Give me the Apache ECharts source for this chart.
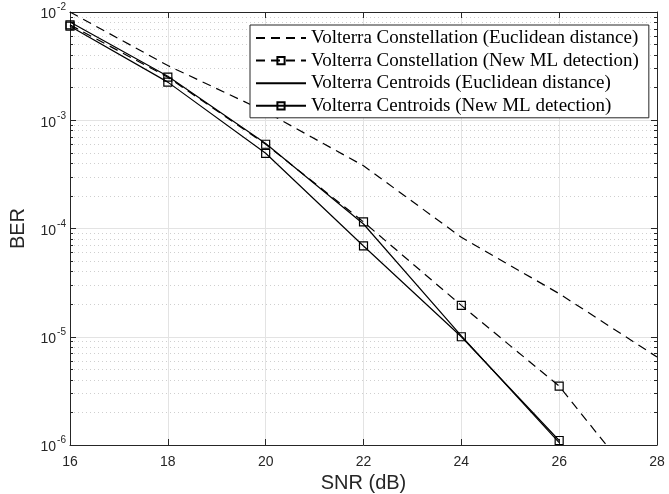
<!DOCTYPE html>
<html><head><meta charset="utf-8">
<script src="https://cdn.jsdelivr.net/npm/echarts@6/dist/echarts.min.js"></script>
<style>html,body{margin:0;padding:0;background:#fff}#c{width:669px;height:494px}</style>
</head><body><div id="c"></div>
<script>
// ---- data ----
const snr = [16, 18, 20, 22, 24, 26, 28];
const constEuclid = [1.0e-2, 3.2e-3, 1.2e-3, 3.8e-4, 8.3e-5, 2.5e-5, 6.5e-6];
const constML     = [7.6e-3, 2.5e-3, 6.0e-4, 1.15e-4, 1.95e-5, 3.5e-6, 2.6e-7];
const centEuclid  = [8.1e-3, 2.55e-3, 6.1e-4, 1.1e-4, 1.02e-5, 1.05e-6, null];
const centML      = [7.4e-3, 2.25e-3, 4.95e-4, 6.9e-5, 1.0e-5, 1.1e-6, null];
const seriesNames = [
  'Volterra Constellation (Euclidean distance)',
  'Volterra Constellation (New ML detection)',
  'Volterra Centroids (Euclidean distance)',
  'Volterra Centroids (New ML detection)'
];
const xTicks = [16, 18, 20, 22, 24, 26, 28];
const yMajor = [1e-6, 1e-5, 1e-4, 1e-3, 1e-2];
const yMinor = [];
for (let e = -6; e < -2; e++) for (let m = 2; m <= 9; m++) yMinor.push(m * Math.pow(10, e));

const AX = '#262626';
const pair = arr => snr.map((x, i) => [x, arr[i]]);

const chart = echarts.init(document.getElementById('c'), null, {renderer: 'canvas'});

function yAxisBase(extra) {
  return Object.assign({
    type: 'log', logBase: 10, min: 1e-6, max: 1e-2, gridIndex: 0,
    axisLine: {show: false},
    axisLabel: {show: false},
    axisTick: {show: false},
    splitLine: {show: false},
    minorTick: {show: false},
    minorSplitLine: {show: false}
  }, extra);
}

const dash = [9, 6];
const lineW = 1.2;

const option = {
  animation: false,
  backgroundColor: '#fff',
  grid: {left: 70, right: 12, top: 12, bottom: 49, containLabel: false, outerBoundsMode: 'none'},
  xAxis: [
    {
      type: 'value', min: 16, max: 28, interval: 2, position: 'bottom',
      axisLine: {show: true, onZero: false, lineStyle: {color: AX, width: 1}},
      axisTick: {show: true, inside: true, length: 6, lineStyle: {color: AX}, customValues: xTicks},
      axisLabel: {color: AX, fontSize: 14, fontFamily: 'Liberation Sans', margin: 10, customValues: xTicks},
      splitLine: {show: true, lineStyle: {color: '#e3e3e3', width: 1}},
      name: 'SNR (dB)', nameLocation: 'middle', nameGap: 28,
      nameTextStyle: {color: AX, fontSize: 20, fontFamily: 'Liberation Sans'}
    },
    {
      type: 'value', min: 16, max: 28, interval: 2, position: 'top',
      axisLine: {show: true, onZero: false, lineStyle: {color: AX, width: 1}},
      axisTick: {show: true, inside: true, length: 6, lineStyle: {color: AX}},
      axisLabel: {show: false},
      splitLine: {show: false}
    }
  ],
  yAxis: [
    yAxisBase({
      position: 'left',
      axisLine: {show: true, onZero: false, lineStyle: {color: AX, width: 1}},
      axisTick: {show: true, inside: true, length: 6, lineStyle: {color: AX}, customValues: yMajor},
      axisLabel: {
        show: true, customValues: yMajor, margin: 4, color: AX,
        formatter: v => '{b|10}{s|' + Math.round(Math.log10(v)) + '}',
        rich: {
          b: {fontSize: 14, fontFamily: 'Liberation Sans', color: AX, verticalAlign: 'bottom', padding: [0, 0, 0, 0]},
          s: {fontSize: 10, fontFamily: 'Liberation Sans', color: AX, verticalAlign: 'bottom', padding: [0, 0, 9, 1]}
        }
      },
      splitLine: {show: true, lineStyle: {color: '#e3e3e3', width: 1}},
      name: 'BER', nameLocation: 'middle', nameGap: 42, nameRotate: 90,
      nameTextStyle: {color: AX, fontSize: 20, fontFamily: 'Liberation Sans'}
    }),
    yAxisBase({
      position: 'left',
      axisTick: {show: true, inside: true, length: 3, lineStyle: {color: AX}, customValues: yMinor},
      splitLine: {show: true, lineStyle: {color: '#cfcfcf', width: 1, type: [1, 3]}}
    }),
    yAxisBase({
      position: 'right',
      axisLine: {show: true, onZero: false, lineStyle: {color: AX, width: 1}},
      axisTick: {show: true, inside: true, length: 6, lineStyle: {color: AX}, customValues: yMajor}
    }),
    yAxisBase({
      position: 'right',
      axisTick: {show: true, inside: true, length: 3, lineStyle: {color: AX}, customValues: yMinor}
    })
  ],
  legend: {
    show: true, orient: 'vertical', left: 250, top: 25,
    padding: [2, 10, 1, 5], itemGap: 0.6,
    itemWidth: 50, itemHeight: 9,
    backgroundColor: '#fff', borderColor: AX, borderWidth: 1, borderRadius: 0,
    shadowBlur: 0, shadowColor: 'transparent',
    textStyle: {color: '#000', fontSize: 19, fontFamily: 'Liberation Serif', lineHeight: 22},
    selectedMode: false,
    data: [
      {name: seriesNames[0], itemStyle: {opacity: 0}},
      {name: seriesNames[1]},
      {name: seriesNames[2], itemStyle: {opacity: 0}},
      {name: seriesNames[3]}
    ]
  },
  series: [
    {
      name: seriesNames[0], type: 'line', xAxisIndex: 0, yAxisIndex: 0,
      data: pair(constEuclid), symbol: 'none', clip: true,
      lineStyle: {color: '#000', width: lineW, type: dash},
      itemStyle: {color: 'transparent', borderWidth: 0}
    },
    {
      name: seriesNames[1], type: 'line', xAxisIndex: 0, yAxisIndex: 0,
      data: pair(constML), symbol: 'rect', symbolSize: 8, clip: true,
      lineStyle: {color: '#000', width: lineW, type: dash},
      itemStyle: {color: 'transparent', borderColor: '#000', borderWidth: 1.2}
    },
    {
      name: seriesNames[2], type: 'line', xAxisIndex: 0, yAxisIndex: 0,
      data: pair(centEuclid), symbol: 'none', clip: true,
      lineStyle: {color: '#000', width: lineW, type: 'solid'},
      itemStyle: {color: 'transparent', borderWidth: 0}
    },
    {
      name: seriesNames[3], type: 'line', xAxisIndex: 0, yAxisIndex: 0,
      data: pair(centML), symbol: 'rect', symbolSize: 8, clip: true,
      lineStyle: {color: '#000', width: lineW, type: 'solid'},
      itemStyle: {color: 'transparent', borderColor: '#000', borderWidth: 1.2}
    }
  ]
};
chart.setOption(option);
</script>
</body></html>
